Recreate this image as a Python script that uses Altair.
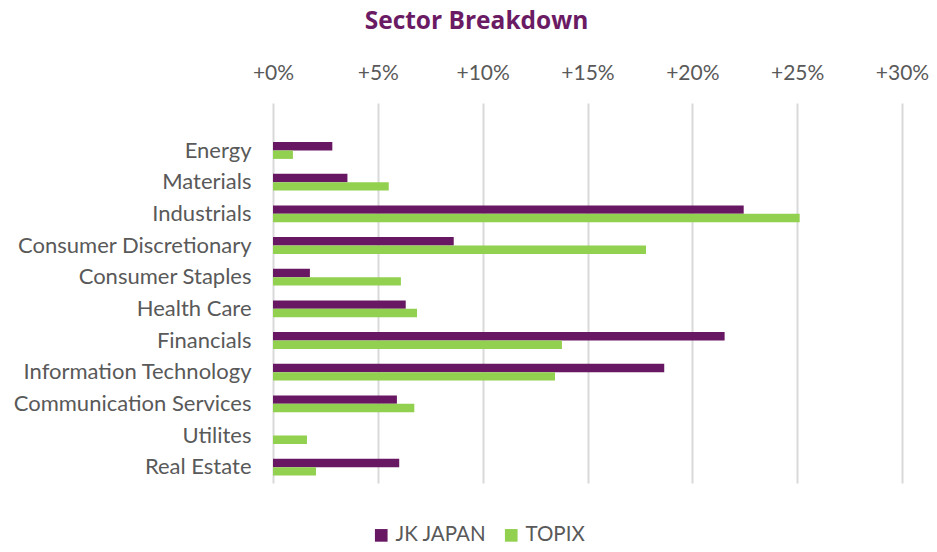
import altair as alt
import pandas as pd

categories = ["Energy", "Materials", "Industrials", "Consumer Discretionary",
              "Consumer Staples", "Health Care", "Financials",
              "Information Technology", "Communication Services", "Utilites",
              "Real Estate"]
jk_japan = [2.83, 3.55, 22.45, 8.62, 1.76, 6.33, 21.54, 18.66, 5.91, 0.0, 6.02]
topix = [0.95, 5.52, 25.12, 17.79, 6.10, 6.87, 13.78, 13.45, 6.74, 1.62, 2.05]
series = ["JK JAPAN", "TOPIX"]
colors = ["#681862", "#92D050"]
ticks = [0, 5, 10, 15, 20, 25, 30]

rows = []
for c, a, b in zip(categories, jk_japan, topix):
    rows.append({"Sector": c, "Series": series[0], "Value": a})
    rows.append({"Sector": c, "Series": series[1], "Value": b})
df = pd.DataFrame(rows)

FONT = "Lato"
GRAY = "#595959"

chart = alt.Chart(df).mark_bar(size=8.4).encode(
    y=alt.Y("Sector:N", sort=[" "] + categories,
            scale=alt.Scale(domain=[" "] + categories, paddingInner=0.47, paddingOuter=0.235),
            axis=alt.Axis(title=None, domain=False, ticks=False, grid=False,
                          labelFontSize=22, labelColor=GRAY, labelFont=FONT,
                          labelPadding=22, labelLimit=400)),
    yOffset=alt.YOffset("Series:N", sort=series, scale=alt.Scale(paddingInner=0, paddingOuter=0)),
    x=alt.X("Value:Q", scale=alt.Scale(domain=[0, 30], nice=False),
            axis=alt.Axis(orient="top", title=None, values=ticks, domain=False, ticks=False,
                          labelExpr="'+' + datum.value + '%'", labelFlush=False,
                          labelFontSize=21, labelColor=GRAY, labelFont=FONT,
                          labelPadding=20, gridColor="#D9D9D9", gridWidth=2)),
    color=alt.Color("Series:N", sort=series,
                    scale=alt.Scale(domain=series, range=colors),
                    legend=alt.Legend(title=None, orient="none", direction="horizontal",
                                      legendX=98, legendY=422, symbolType="square",
                                      symbolSize=160, symbolStrokeWidth=0,
                                      labelFontSize=20.5, labelColor=GRAY, labelFont=FONT,
                                      columnPadding=14, labelOffset=4)),
).properties(
    width=629, height=380,
    title=alt.TitleParams("Sector Breakdown", fontSize=24.5, font="Open Sans", fontWeight="bold",
                          color="#6A1B63", anchor="middle", dx=-111, offset=28),
    autosize=alt.AutoSizeParams(type="none"),
    padding={"left": 273, "top": 103, "right": 35, "bottom": 69},
).configure_view(stroke=None)

chart.save("out.html", embed_options={"renderer": "svg", "actions": False})
